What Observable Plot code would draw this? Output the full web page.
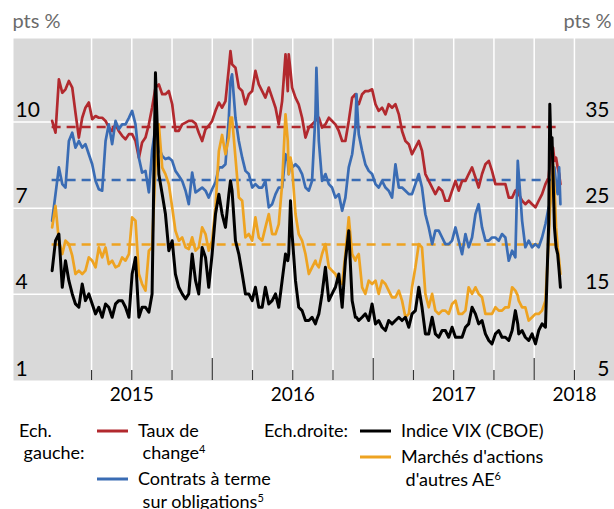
<!DOCTYPE html>
<html><head><meta charset="utf-8">
<script src="https://cdn.jsdelivr.net/npm/d3@7"></script>
<script src="https://cdn.jsdelivr.net/npm/@observablehq/plot@0.6"></script>
<style>
body{margin:0;background:#fff;font-family:Lato,sans-serif;}
#wrap{position:relative;width:614px;height:509px;overflow:hidden;}
.lg{position:absolute;font-size:18px;color:#000;white-space:nowrap;transform:translateY(-50%);line-height:1.1;}
.sw{position:absolute;height:3px;transform:translateY(-50%);}
.lg sup{font-size:11px;vertical-align:top;position:relative;top:0px;line-height:1;}
</style></head><body><div id="wrap"></div>
<script>
// decimal years
const dates = [
2015.005,2015.026,2015.047,2015.068,2015.088,2015.109,2015.130,2015.150,2015.171,2015.192,
2015.212,2015.233,2015.254,2015.275,2015.295,2015.316,2015.337,2015.357,2015.378,2015.399,
2015.419,2015.440,2015.461,2015.482,2015.502,2015.523,2015.544,2015.564,2015.585,2015.606,
2015.626,2015.647,2015.668,2015.689,2015.709,2015.730,2015.751,2015.771,2015.792,2015.813,
2015.834,2015.854,2015.875,2015.896,2015.916,2015.937,2015.958,2015.978,2015.999,2016.020,
2016.041,2016.061,2016.082,2016.103,2016.113,2016.123,2016.144,2016.165,2016.186,2016.206,
2016.227,2016.248,2016.268,2016.289,2016.310,2016.330,2016.351,2016.372,2016.393,2016.413,
2016.434,2016.455,2016.469,2016.475,2016.486,2016.496,2016.517,2016.537,2016.558,2016.579,
2016.600,2016.620,2016.641,2016.647,2016.662,2016.682,2016.703,2016.724,2016.744,2016.765,
2016.786,2016.807,2016.827,2016.848,2016.869,2016.889,2016.896,2016.910,2016.931,2016.951,
2016.972,2016.993,2017.014,2017.034,2017.055,2017.076,2017.096,2017.117,2017.138,2017.159,
2017.179,2017.200,2017.221,2017.241,2017.262,2017.283,2017.303,2017.324,2017.345,2017.366,
2017.386,2017.407,2017.428,2017.448,2017.469,2017.490,2017.511,2017.531,2017.552,2017.573,
2017.593,2017.614,2017.635,2017.655,2017.676,2017.697,2017.718,2017.738,2017.759,2017.780,
2017.800,2017.821,2017.842,2017.863,2017.883,2017.898,2017.904,2017.925,2017.945,2017.966,
2017.987,2018.008,2018.028,2018.049,2018.070,2018.090,2018.097,2018.103,2018.111,2018.117,
2018.126,2018.136,2018.146,2018.155,2018.163];

// left scale (pts %)
const tauxDeChange = [
10.04,9.63,11.49,11.02,11.14,11.43,11.20,10.33,9.46,10.15,
10.50,10.68,10.10,10.21,10.15,10.15,10.04,9.81,9.69,9.92,
9.69,9.52,9.40,9.58,9.58,9.34,8.76,9.29,9.46,9.92,
10.50,11.20,11.31,10.97,10.97,11.08,10.62,9.69,9.69,9.92,
9.98,10.04,10.04,9.95,9.63,9.34,9.75,9.87,10.04,10.39,
10.68,10.50,10.73,11.89,12.47,12.01,11.89,11.20,11.08,10.62,
10.97,11.08,11.78,11.31,11.08,10.85,11.20,10.85,10.50,9.92,
10.73,12.36,11.08,12.36,11.78,11.20,10.85,10.62,10.15,9.46,
9.81,9.92,10.04,10.10,10.15,9.81,9.92,10.15,10.04,9.92,
9.69,9.34,9.34,10.04,10.85,10.97,10.73,10.62,10.97,11.08,
11.08,11.14,10.62,10.39,10.50,10.27,10.62,10.50,10.62,10.27,
9.69,9.34,9.23,8.88,9.11,9.34,9.00,8.19,7.95,7.72,
7.49,7.72,7.61,7.26,7.26,7.61,7.95,7.61,7.95,7.95,
8.19,8.42,8.07,7.72,8.19,8.53,8.65,8.30,7.84,7.84,
7.84,7.84,7.37,7.37,7.61,7.66,7.49,7.26,7.14,7.26,
7.14,7.03,7.26,7.49,7.84,8.07,8.53,8.82,9.00,9.11,
8.65,8.76,8.42,8.19,7.84];

const contratsTerme = [
6.56,7.49,8.42,7.84,7.72,9.34,9.63,9.11,9.34,9.11,
9.23,8.88,8.53,7.95,7.66,7.61,9.34,9.92,9.23,10.04,
9.75,9.92,9.92,10.15,10.39,9.92,8.76,8.24,8.30,7.55,
9.00,9.81,9.11,8.82,8.71,8.76,8.65,8.30,8.13,7.95,
7.61,7.14,8.24,7.55,7.63,7.72,7.61,7.37,7.66,7.90,
8.42,8.42,8.53,10.15,11.43,11.66,10.15,9.34,8.76,8.30,
8.19,7.72,7.84,7.72,7.72,7.95,7.03,7.14,7.49,7.72,
7.72,8.88,8.65,8.19,8.65,8.42,8.53,8.42,8.19,7.72,
7.61,7.95,10.27,11.89,9.34,7.95,8.19,7.84,7.72,7.37,
7.49,6.91,7.37,8.42,8.88,9.81,10.97,9.58,9.00,8.53,
8.30,8.19,7.84,7.72,7.95,7.72,7.61,7.37,8.53,7.72,
7.72,7.61,7.49,7.49,7.84,8.19,7.72,6.79,6.33,5.75,
6.22,6.22,5.98,5.75,5.75,5.87,6.33,5.87,5.40,6.10,
5.64,5.98,6.79,7.14,6.33,5.87,5.87,5.98,5.98,5.87,
6.10,5.98,5.17,5.52,5.29,8.65,8.19,6.56,5.64,5.87,
5.64,5.75,5.64,5.98,6.45,7.03,7.14,7.37,7.61,8.19,
8.42,7.84,7.49,8.42,7.14];

// right scale (pts %)
const indiceVIX = [
17.75,21.23,22.00,15.82,18.91,16.59,15.05,13.89,13.50,16.20,
14.27,15.05,13.89,12.73,13.50,12.34,13.89,13.50,12.34,13.89,
14.27,14.27,13.50,12.34,17.36,19.29,12.34,13.50,13.50,12.92,
15.05,40.73,28.95,26.63,24.32,20.07,21.23,17.36,15.82,15.05,
14.47,15.05,19.68,16.59,15.05,20.45,19.29,15.82,19.68,24.32,
26.63,24.32,22.77,26.63,28.18,27.02,21.23,19.68,17.36,15.05,
15.05,14.27,15.82,13.50,13.50,15.82,13.89,14.27,15.05,13.50,
16.59,19.68,18.91,19.68,25.86,22.00,16.59,13.50,13.11,11.96,
11.96,12.34,11.57,11.96,12.73,15.05,18.14,14.27,15.05,15.82,
17.36,13.50,18.91,22.38,14.27,12.34,12.34,11.96,12.34,12.73,
11.96,13.89,11.57,11.96,11.18,10.80,11.96,11.57,11.96,12.34,
11.96,12.34,11.18,12.73,13.11,15.82,13.50,10.41,10.41,12.34,
10.41,10.02,10.80,10.80,10.02,11.18,10.02,10.02,10.02,11.18,
11.57,13.50,12.73,11.57,11.96,10.41,9.64,9.25,10.41,10.80,
10.02,10.02,9.64,10.80,13.11,11.57,10.41,10.80,10.02,9.64,
10.41,9.25,10.80,11.57,11.18,23.16,37.06,32.81,33.20,28.95,
22.77,20.45,19.68,17.75,15.82];

const actionsAutresAE = [
22.77,25.28,21.23,19.68,21.23,20.84,19.49,17.36,17.75,17.36,
17.75,19.29,18.91,18.14,20.45,19.29,20.45,18.52,18.91,18.14,
18.33,19.29,18.91,19.68,23.93,23.54,17.36,16.20,15.43,20.07,
20.45,29.72,34.74,29.72,28.95,27.79,25.09,22.38,21.23,21.61,
20.45,20.26,21.61,20.07,20.45,22.77,22.00,20.07,21.23,25.09,
31.65,33.50,31.27,33.20,35.52,35.52,30.88,26.25,25.86,21.61,
22.00,21.23,23.93,21.61,21.23,22.77,24.32,22.00,22.00,23.16,
27.79,35.90,32.81,28.95,30.88,29.72,24.32,22.00,21.23,19.68,
17.36,18.14,18.91,18.52,18.14,19.68,20.84,18.14,17.75,17.36,
16.59,16.20,19.68,23.93,19.68,18.91,19.29,19.68,15.82,15.05,
16.59,16.20,16.59,15.05,16.59,16.20,15.43,14.66,14.66,15.43,
14.27,12.34,12.73,15.82,18.14,20.84,20.45,15.05,13.50,15.05,
13.11,12.73,13.11,13.11,12.73,13.89,14.27,12.73,12.73,13.11,
15.82,15.05,15.82,15.05,14.66,12.73,12.73,12.73,13.50,13.11,
13.11,13.50,13.50,15.82,15.43,14.85,14.27,13.50,13.50,11.96,
12.34,12.73,12.73,13.11,14.27,21.23,24.32,26.25,28.18,30.11,
27.41,22.77,20.45,18.91,17.36];

// period averages (dashed lines)
const moyenneTaux = 9.83;
const moyenneContrats = 7.98;
const moyenneActions = 20.8; // right scale

const leftTicks = [1, 4, 7, 10];
const rightTicks = [5, 15, 25, 35];
const quarterLines = [2015.25,2015.5,2015.75,2016,2016.25,2016.5,2016.75,2017,2017.25,2017.5,2017.75,2018,2018.25];
const yearTicks = [2016, 2017, 2018];
const yearLabels = ["2015", "2016", "2017", "2018"];
const yearLabelAt = [2015.5, 2016.5, 2017.5, 2018.25];

const RED = "#b2292e", BLUE = "#3a6cb4", ORANGE = "#eea321", BLACK = "#000000";

const rightToLeft = v => 1 + (v - 5) * 0.3;

const rows = dates.map((d, i) => ({
  d,
  taux: tauxDeChange[i],
  contrats: contratsTerme[i],
  vix: rightToLeft(indiceVIX[i]),
  actions: rightToLeft(actionsAutresAE[i])
}));
const d0 = dates[0], d1 = dates[dates.length - 1];

const H = 405, mTop = 38, mBottom = 25;
const innerH = H - mTop - mBottom;

const chart = Plot.plot({
  width: 614, height: H,
  marginTop: mTop, marginBottom: mBottom, marginLeft: 13, marginRight: 0,
  style: {fontFamily: "Lato, sans-serif", background: "white", overflow: "visible"},
  x: {type: "linear", domain: [2014.765, 2018.499], axis: null},
  y: {domain: [1, 12.91], axis: null},
  marks: [
    Plot.frame({fill: "#d9d9d9", stroke: "none"}),
    Plot.ruleY(leftTicks.slice(1), {stroke: "white", strokeWidth: 1.5}),
    Plot.ruleX(quarterLines, {stroke: "white", strokeWidth: 1.5}),
    Plot.ruleX(quarterLines.filter(q => !yearTicks.includes(q)), {stroke: "#333", strokeWidth: 1.2, insetTop: innerH - 10}),
    Plot.ruleX(yearTicks, {stroke: "#333", strokeWidth: 1.2, insetTop: innerH - 22}),
    Plot.ruleY([moyenneTaux], {x1: [d0], x2: [d1], stroke: RED, strokeWidth: 2.5, strokeDasharray: "9,6"}),
    Plot.ruleY([moyenneContrats], {x1: [d0], x2: [d1], stroke: BLUE, strokeWidth: 2.5, strokeDasharray: "9,6"}),
    Plot.ruleY([rightToLeft(moyenneActions)], {x1: [d0], x2: [d1], stroke: ORANGE, strokeWidth: 2.5, strokeDasharray: "9,6"}),
    Plot.line(rows, {x: "d", y: "taux", stroke: RED, strokeWidth: 2.7}),
    Plot.line(rows, {x: "d", y: "contrats", stroke: BLUE, strokeWidth: 2.7}),
    Plot.line(rows, {x: "d", y: "actions", stroke: ORANGE, strokeWidth: 2.7}),
    Plot.line(rows, {x: "d", y: "vix", stroke: BLACK, strokeWidth: 3}),
    Plot.text(leftTicks, {y: d => d, text: d => String(d), frameAnchor: "left", textAnchor: "start", lineAnchor: "bottom", dx: 2, dy: -5, fontSize: 21, fill: "black"}),
    Plot.text(rightTicks, {y: d => rightToLeft(d), text: d => String(d), frameAnchor: "right", textAnchor: "end", lineAnchor: "bottom", dx: -5, dy: -5, fontSize: 21, fill: "black"}),
    Plot.text(["pts %"], {text: d => d, frameAnchor: "top-left", textAnchor: "start", lineAnchor: "bottom", dx: -1, dy: -11, fontSize: 20, fill: "#6b6b6b"}),
    Plot.text(["pts %"], {text: d => d, frameAnchor: "top-right", textAnchor: "end", lineAnchor: "bottom", dx: -3, dy: -11, fontSize: 20, fill: "#6b6b6b"}),
    Plot.text(yearLabels, {x: (d, i) => yearLabelAt[i], text: d => d, frameAnchor: "bottom", lineAnchor: "top", dy: 7, fontSize: 19, fill: "black"})
  ]
});

const wrap = document.getElementById("wrap");
chart.style.position = "absolute";
chart.style.left = "0px";
chart.style.top = "0px";
wrap.appendChild(chart);

// legend
const LH = 22.5;
const legendSeries = [
  {lines: ["Taux de", "\u00a0change<sup>4</sup>"], color: RED, sx: 97, tx: 138, cy: 430.5},
  {lines: ["Contrats à terme", "\u00a0sur obligations<sup>5</sup>"], color: BLUE, sx: 97, tx: 138, cy: 479},
  {lines: ["Indice VIX (CBOE)"], color: BLACK, sx: 360, tx: 401, cy: 430.5},
  {lines: ["Marchés d'actions", "\u00a0d'autres AE<sup>6</sup>"], color: ORANGE, sx: 360, tx: 401, cy: 457}
];
const legendHeads = [
  {lines: ["Ech.", "\u00a0gauche:"], x: 19, cy: 430.5},
  {lines: ["Ech.droite:"], x: 264, cy: 430.5}
];
function addText(html, x, cy) {
  const s = document.createElement("div");
  s.className = "lg";
  s.style.left = x + "px";
  s.style.top = cy + "px";
  s.innerHTML = html;
  wrap.appendChild(s);
}
legendHeads.forEach(h => h.lines.forEach((l, i) => addText(l, h.x, h.cy + i * LH)));
legendSeries.forEach(s => {
  const sw = document.createElement("div");
  sw.className = "sw";
  sw.style.left = s.sx + "px";
  sw.style.top = s.cy + "px";
  sw.style.width = "31px";
  sw.style.background = s.color;
  wrap.appendChild(sw);
  s.lines.forEach((l, i) => addText(l, s.tx, s.cy + i * LH));
});
</script></body></html>
